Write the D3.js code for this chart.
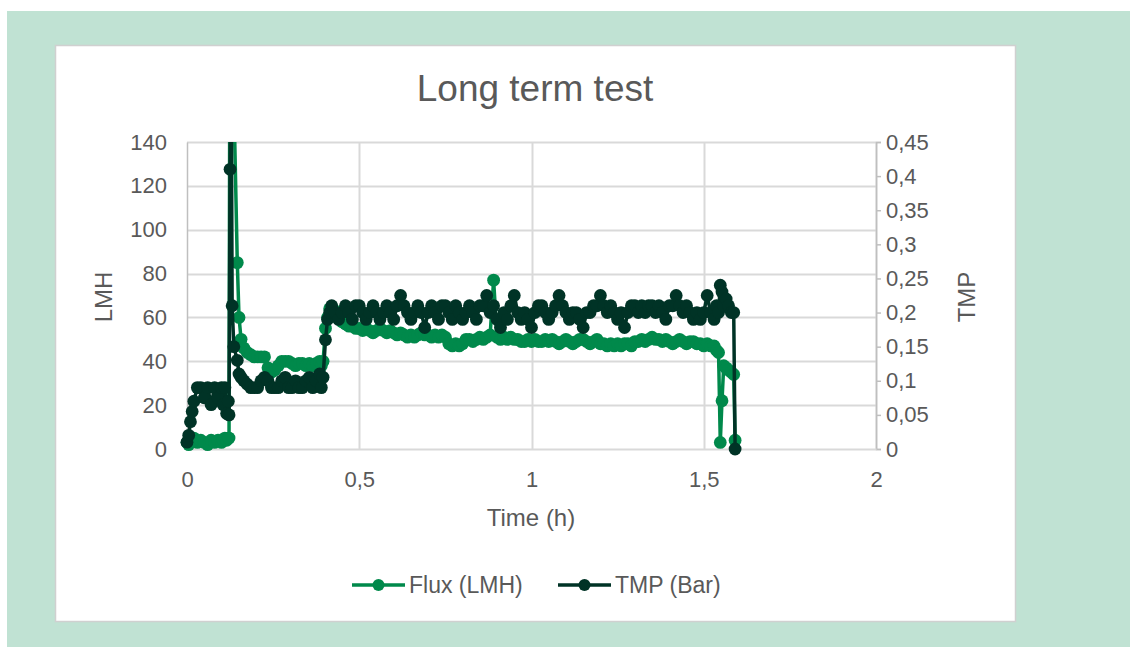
<!DOCTYPE html>
<html><head><meta charset="utf-8">
<script src="https://cdn.jsdelivr.net/npm/d3@7"></script>
<style>body{margin:0;background:#fff;}svg{display:block;font-family:"Liberation Sans",Arial,sans-serif;}</style>
</head><body>
<svg id="c" width="1130" height="647"></svg>
<script>
const title = "Long term test";
const xTicks = [0, 0.5, 1, 1.5, 2];
const yLeftTicks = [0, 20, 40, 60, 80, 100, 120, 140];
const yRightTicks = [0, 0.05, 0.1, 0.15, 0.2, 0.25, 0.3, 0.35, 0.4, 0.45];
const seriesNames = ["Flux (LMH)", "TMP (Bar)"];

const timeH = [
 0, 0.005, 0.01, 0.015, 0.02, 0.03, 0.04, 0.05, 0.06, 0.07, 0.08, 0.09, 0.1, 0.105, 0.11, 0.115, 0.12,
 0.122, 0.125, 0.128, 0.131, 0.136, 0.146, 0.151, 0.157, 0.165, 0.175, 0.185, 0.195, 0.205, 0.215, 0.225,
 0.235, 0.245, 0.255, 0.265, 0.275, 0.285, 0.295, 0.305, 0.315, 0.325, 0.335, 0.345, 0.355, 0.365, 0.375, 0.385, 0.39, 0.395,
 0.402, 0.408, 0.414, 0.42,
 0.43, 0.44, 0.45, 0.46, 0.47, 0.48, 0.49, 0.50, 0.51, 0.52, 0.53, 0.54, 0.55, 0.56, 0.57, 0.58, 0.59, 0.60,
 0.61, 0.62, 0.63, 0.64, 0.65, 0.66, 0.67, 0.68, 0.69, 0.70, 0.71, 0.72, 0.73, 0.74, 0.75, 0.76, 0.77, 0.78, 0.79, 0.80,
 0.81, 0.82, 0.83, 0.84, 0.85, 0.86, 0.87, 0.88, 0.89, 0.90, 0.91, 0.92, 0.93, 0.94, 0.95, 0.96, 0.97, 0.98, 0.99, 1.00,
 1.01, 1.02, 1.03, 1.04, 1.05, 1.06, 1.07, 1.08, 1.09, 1.10, 1.11, 1.12, 1.13, 1.14, 1.15, 1.16, 1.17, 1.18, 1.19, 1.20,
 1.21, 1.22, 1.23, 1.24, 1.25, 1.26, 1.27, 1.28, 1.29, 1.30, 1.31, 1.32, 1.33, 1.34, 1.35, 1.36, 1.37, 1.38, 1.39, 1.40,
 1.41, 1.42, 1.43, 1.44, 1.45, 1.46, 1.47, 1.48, 1.49, 1.50, 1.51, 1.52,
 1.53, 1.537, 1.543, 1.548, 1.553, 1.558, 1.565, 1.572, 1.58, 1.587, 1.591
];

const fluxLMH = [
 3, 2, 3, 4, 5, 3, 4, 3, 2, 4, 3, 4, 3, 4, 5, 4, 5,
 5, 240, 245, 250, 160, 85, 60, 50, 46, 44, 43, 42, 42, 42, 42,
 37, 35, 36, 38, 40, 40, 40, 39, 38, 39, 39, 38, 39, 38, 39, 40, 38, 40,
 55, 60, 64, 65,
 63, 60, 58, 57, 56, 56, 55, 55, 54, 55, 54, 53, 54, 55, 54, 53, 54, 53,
 52, 53, 52, 51, 52, 51, 52, 53, 52, 52, 51, 52, 51, 52, 51, 48, 47, 48, 47, 48,
 50, 50, 49, 50, 51, 50, 51, 52, 77, 51, 50, 51, 50, 51, 50, 50, 49, 49, 50, 49,
 50, 49, 49, 50, 49, 50, 49, 48, 49, 50, 49, 48, 49, 50, 50, 49, 48, 49, 50, 48,
 48, 47, 48, 47, 48, 47, 48, 48, 47, 49, 49, 50, 49, 50, 51, 50, 50, 49, 50, 49,
 48, 49, 50, 49, 48, 49, 49, 48, 48, 47, 48, 47,
 47, 45, 44, 3, 22, 38, 37, 36, 35, 34, 4
];

const tmpBar = [
 0.01, 0.02, 0.04, 0.055, 0.07, 0.09, 0.09, 0.075, 0.09, 0.065, 0.09, 0.075, 0.09, 0.065, 0.09, 0.052, 0.07,
 0.05, 0.41, 0.6, 0.21, 0.15, 0.13, 0.11, 0.105, 0.1, 0.095, 0.09, 0.09, 0.09, 0.1, 0.105,
 0.1, 0.09, 0.09, 0.09, 0.1, 0.105, 0.09, 0.09, 0.1, 0.09, 0.09, 0.1, 0.105, 0.09, 0.1, 0.11, 0.09, 0.105,
 0.16, 0.19, 0.2, 0.21,
 0.2, 0.19, 0.2, 0.21, 0.2, 0.19, 0.21, 0.21, 0.2, 0.19, 0.2, 0.21, 0.2, 0.19, 0.2, 0.21, 0.2, 0.19,
 0.21, 0.225, 0.21, 0.2, 0.19, 0.2, 0.21, 0.2, 0.178, 0.2, 0.21, 0.2, 0.19, 0.21, 0.21, 0.2, 0.19, 0.21, 0.2, 0.19,
 0.2, 0.21, 0.2, 0.19, 0.21, 0.21, 0.225, 0.2, 0.21, 0.19, 0.178, 0.2, 0.19, 0.21, 0.225, 0.2, 0.19, 0.2, 0.19, 0.178,
 0.2, 0.21, 0.21, 0.2, 0.19, 0.2, 0.21, 0.225, 0.21, 0.2, 0.19, 0.2, 0.2, 0.19, 0.178, 0.2, 0.2, 0.21, 0.21, 0.225,
 0.21, 0.2, 0.21, 0.2, 0.19, 0.2, 0.178, 0.2, 0.21, 0.21, 0.2, 0.21, 0.2, 0.21, 0.21, 0.2, 0.21, 0.2, 0.19, 0.21,
 0.21, 0.225, 0.21, 0.2, 0.21, 0.2, 0.19, 0.2, 0.19, 0.2, 0.225, 0.2,
 0.19, 0.21, 0.2, 0.24, 0.23, 0.21, 0.22, 0.21, 0.2, 0.2, 0
];

const fluxColor = "#00894b";
const tmpColor = "#003326";
const textColor = "#595959";
const gridColor = "#d9d9d9";
const font = "'Liberation Sans', Arial, sans-serif";

const svg = d3.select("#c");
svg.append("rect").attr("x", 7).attr("y", 11).attr("width", 1123).attr("height", 636).attr("fill", "#c0e2d3");
svg.append("rect").attr("x", 55.5).attr("y", 45.5).attr("width", 960).attr("height", 576)
  .attr("fill", "#fff").attr("stroke", "#d0d0d0").attr("stroke-width", 1.5);

const x = d3.scaleLinear().domain([0, 2]).range([187, 876]);
const yL = d3.scaleLinear().domain([0, 140]).range([449, 142]);
const yR = d3.scaleLinear().domain([0, 0.45]).range([449, 142]);

// grid
const grid = svg.append("g");
grid.selectAll(".hg").data(yLeftTicks.slice(1)).join("line")
  .attr("x1", x(0)).attr("x2", x(2)).attr("y1", d => Math.round(yL(d)) + 0.5).attr("y2", d => Math.round(yL(d)) + 0.5)
  .attr("stroke", gridColor).attr("stroke-width", 2);
grid.selectAll(".vg").data(xTicks.slice(1)).join("line")
  .attr("y1", yL(0)).attr("y2", yL(140)).attr("x1", d => Math.round(x(d)) + 0.5).attr("x2", d => Math.round(x(d)) + 0.5)
  .attr("stroke", gridColor).attr("stroke-width", 2);

// axes
const axL = svg.append("g").attr("transform", `translate(${x(0)},0)`)
  .call(d3.axisLeft(yL).tickValues(yLeftTicks).tickSize(0).tickPadding(20).tickFormat(d3.format("d")));
const axR = svg.append("g").attr("transform", `translate(${x(2)},0)`)
  .call(d3.axisRight(yR).tickValues(yRightTicks).tickSize(5).tickPadding(5).tickFormat(d => String(d).replace(".", ",")));
const axB = svg.append("g").attr("transform", `translate(0,${yL(0)})`)
  .call(d3.axisBottom(x).tickValues(xTicks).tickSize(0).tickPadding(22).tickFormat(d => String(d).replace(".", ",")));
[axL, axR, axB].forEach(a => {
  a.selectAll("path.domain").attr("stroke", "#bfbfbf").attr("stroke-width", 1.5);
  a.selectAll(".tick line").attr("stroke", "#bfbfbf").attr("stroke-width", 1.5);
  a.selectAll("text").attr("fill", textColor).style("font-size", "22px").style("font-family", font);
});
axB.select("path.domain").attr("stroke", gridColor).attr("stroke-width", 2);

// clip
svg.append("defs").append("clipPath").attr("id", "plotclip")
  .append("rect").attr("x", 150).attr("y", 142).attr("width", 780).attr("height", 330);

const plot = svg.append("g").attr("clip-path", "url(#plotclip)");
const fluxData = timeH.map((t, i) => [t, fluxLMH[i]]);
const tmpData = timeH.map((t, i) => [t, tmpBar[i]]);

function drawSeries(data, yS, color) {
  plot.append("path").datum(data)
    .attr("d", d3.line().x(d => x(d[0])).y(d => yS(d[1])))
    .attr("fill", "none").attr("stroke", color).attr("stroke-width", 3.5).attr("stroke-linejoin", "round");
  plot.append("g").selectAll("circle").data(data).join("circle")
    .attr("cx", d => x(d[0])).attr("cy", d => yS(d[1])).attr("r", 6.4).attr("fill", color);
}
drawSeries(fluxData, yL, fluxColor);
drawSeries(tmpData, yR, tmpColor);

// titles
svg.append("text").attr("x", 535).attr("y", 101).attr("text-anchor", "middle")
  .attr("fill", textColor).style("font-size", "37px").text(title);
svg.append("text").attr("transform", "translate(112,297) rotate(-90)").attr("text-anchor", "middle")
  .attr("fill", textColor).style("font-size", "24px").text("LMH");
svg.append("text").attr("transform", "translate(975,297) rotate(-90)").attr("text-anchor", "middle")
  .attr("fill", textColor).style("font-size", "24px").text("TMP");
svg.append("text").attr("x", 531).attr("y", 526).attr("text-anchor", "middle")
  .attr("fill", textColor).style("font-size", "24px").text("Time (h)");

// legend
const legend = svg.append("g");
const legItems = [{name: seriesNames[0], color: fluxColor, x: 352}, {name: seriesNames[1], color: tmpColor, x: 558}];
legItems.forEach(it => {
  legend.append("line").attr("x1", it.x).attr("x2", it.x + 53).attr("y1", 585).attr("y2", 585)
    .attr("stroke", it.color).attr("stroke-width", 3.5);
  legend.append("circle").attr("cx", it.x + 26.5).attr("cy", 585).attr("r", 6).attr("fill", it.color);
  legend.append("text").attr("x", it.x + 57).attr("y", 593).attr("fill", textColor)
    .style("font-size", "23px").text(it.name);
});
</script>
</body></html>
